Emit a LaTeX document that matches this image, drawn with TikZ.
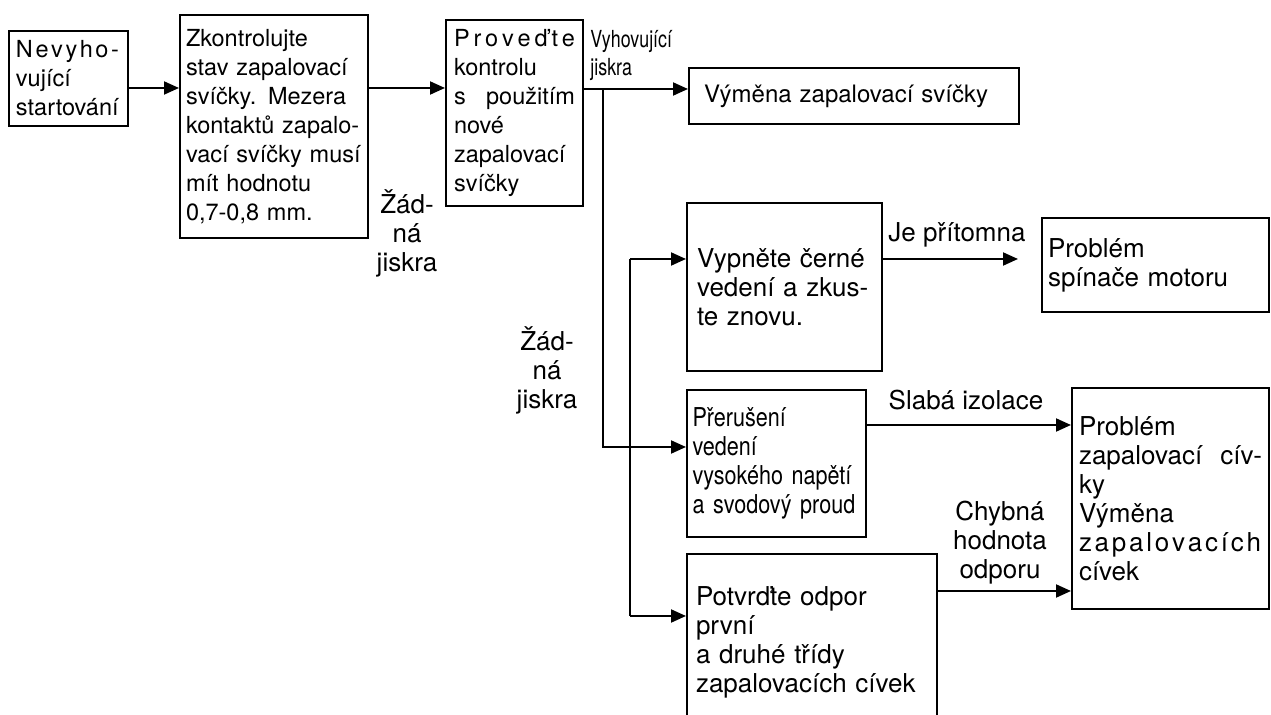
\documentclass[tikz,border=0pt]{standalone}
\usepackage{fontspec}
\setmainfont{TeX Gyre Heros}
\newfontfamily\narrowfont[FakeStretch=0.76]{TeX Gyre Heros}
\newfontfamily\semifont[FakeStretch=0.83]{TeX Gyre Heros}
\usetikzlibrary{arrows.meta}
\newcommand\flowsize{\fontsize{11.75}{14.5}\selectfont}
\newcommand\bigsize{\fontsize{13}{14.5}\selectfont}
\tikzset{
  flowbox/.style={draw=black,line width=1pt,anchor=north west,align=left,
    inner xsep=4pt,inner ysep=0pt,font=\flowsize},
  flowarrow/.style={-{Triangle[length=7.5pt,width=6.5pt]},line width=1pt},
  flowlabel/.style={align=center,inner sep=0pt,font=\bigsize},
  narrowlabel/.style={align=left,inner sep=0pt,anchor=west,
    font=\narrowfont\fontsize{11.75}{14}\selectfont}
}

\begin{document}
\begin{tikzpicture}[x=0.5pt,y=-0.5pt]
  \useasboundingbox (0,0) rectangle (1271,715);
  % boxes
  \node[flowbox,minimum width=59.5pt,minimum height=47.5pt,inner xsep=3.5pt,text width=52.5pt]
    (start) at (8,30) {\makebox[51.5pt][l]{N\hfill e\hfill v\hfill y\hfill h\hfill o\hfill -}\\vující\\startování};
  \node[flowbox,minimum width=94pt,minimum height=111.5pt,inner xsep=3pt,text width=88pt]
    (check) at (179,14) {Zkontrolujte\\stav zapalovací\\svíčky. Mezera\\kontaktů zapalo-\\vací svíčky musí\\mít hodnotu\\0,7-0,8 mm.};
  \node[flowbox,minimum width=68.5pt,minimum height=93pt,text width=60.5pt]
    (newplug) at (445,19) {\makebox[60.5pt][l]{P\hfill r\hfill o\hfill v\hfill e\hfill ď\hfill t\hfill e}\\kontrolu\\s\hfill použitím\\nové\\zapalovací\\svíčky};
  \node[flowbox,minimum width=165pt,minimum height=28pt,inner xsep=7.5pt,text width=150pt,font=\fontsize{12}{14.5}\selectfont]
    (replace) at (688,67) {Výměna zapalovací svíčky};
  \node[flowbox,minimum width=97.5pt,minimum height=84pt,inner xsep=5pt,text width=87.5pt,font=\bigsize]
    (blackoff) at (686,202) {Vypněte černé\\vedení a zkus-\\te znovu.};
  \node[flowbox,minimum width=113.5pt,minimum height=47pt,inner xsep=3pt,text width=107.5pt,font=\bigsize]
    (switch) at (1041,217) {Problém\\spínače motoru};
  \node[flowbox,minimum width=89.5pt,minimum height=73.5pt,inner xsep=2.75pt,text width=84pt,
    font=\semifont\bigsize]
    (hvlead) at (686,389) {Přerušení\\vedení\\vysokého napětí\\a svodový proud};
  \node[flowbox,minimum width=98.5pt,minimum height=110.5pt,inner xsep=3.5pt,text width=91.5pt,font=\bigsize]
    (coil) at (1071,387) {Problém\\zapalovací\hfill cív-\\ky\\Výměna\\\makebox[91pt][l]{z\hfill a\hfill p\hfill a\hfill l\hfill o\hfill v\hfill a\hfill c\hfill í\hfill c\hfill h}\\cívek};
  \node[flowbox,minimum width=125pt,minimum height=88.5pt,inner xsep=4.5pt,text width=116pt,font=\bigsize]
    (resist) at (686,553) {Potvrďte odpor\\první\\a druhé třídy\\zapalovacích cívek};
  % labels
  \node[narrowlabel] (goodspark) at (590,56) {Vyhovující\\jiskra};
  \node[flowlabel] (nospark1) at (407,233) {Žád-\\ná\\jiskra};
  \node[flowlabel] (nospark2) at (547,370) {Žád-\\ná\\jiskra};
  \node[flowlabel] (present) at (957,235) {Je přítomna};
  \node[flowlabel] (weak) at (966,400) {Slabá izolace};
  \node[flowlabel] (wrongval) at (1000,543) {Chybná\\hodnota\\odporu};
  % connectors
  \coordinate (fork) at (603,89);
  \coordinate (upper) at (630,259);
  \coordinate (lower) at (630,616);
  \coordinate (presentend) at (1018,259);
  \draw[flowarrow] (start.east |- 0,88) -- (check.west |- 0,88);
  \draw[flowarrow] (check.east |- 0,88) -- (newplug.west |- 0,88);
  \draw[flowarrow] (newplug.east |- fork) -- (replace.west |- fork);
  \draw[flowarrow] (fork) |- (hvlead.west |- 0,447);
  \draw[line width=1pt] (upper) -- (lower);
  \draw[flowarrow] (upper) -- (blackoff.west |- upper);
  \draw[flowarrow] (lower) -- (resist.west |- lower);
  \draw[flowarrow] (blackoff.east |- upper) -- (presentend);
  \draw[flowarrow] (hvlead.east |- 0,425) -- (coil.west |- 0,425);
  \draw[flowarrow] (resist.east |- 0,591) -- (coil.west |- 0,591);
\end{tikzpicture}
\end{document}
